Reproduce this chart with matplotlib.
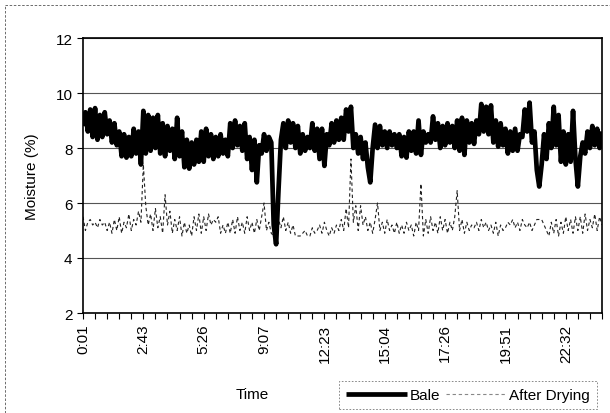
import numpy as np
import matplotlib
matplotlib.use("Agg")
import matplotlib.pyplot as plt
from matplotlib.lines import Line2D

plt.rcParams['font.family'] = ['Liberation Sans', 'DejaVu Sans']

# Bale moisture (%), one value per logged reading
bale = [
    8.8, 9.3, 8.6, 9.4, 8.4, 9.45, 8.3, 9.2, 8.4, 9.3, 8.5, 9.0,
    8.2, 8.9, 8.1, 8.6, 7.7, 8.5, 7.65, 8.4, 7.7, 8.7, 7.8, 8.6,
    7.4, 9.35, 7.8, 9.2, 7.9, 9.1, 8.0, 9.2, 7.8, 8.9, 7.7, 8.8,
    7.9, 8.7, 7.6, 9.1, 7.7, 8.6, 7.3, 8.3, 7.25, 8.2, 7.4, 8.3,
    7.5, 8.6, 7.5, 8.7, 7.7, 8.5, 7.6, 8.4, 7.7, 8.5, 7.8, 8.3,
    7.7, 8.9, 8.0, 9.0, 8.1, 8.8, 7.9, 8.9, 7.6, 8.4, 7.2, 8.3,
    6.75, 8.1, 7.8, 8.5, 7.9, 8.4, 8.2, 5.2, 4.5, 6.5, 8.3, 8.9,
    8.0, 9.0, 8.2, 8.9, 8.0, 8.8, 7.8, 8.5, 7.9, 8.4, 8.0, 8.9,
    7.9, 8.7, 7.6, 8.7, 7.35, 8.5, 8.1, 8.9, 8.2, 9.0, 8.3, 9.1,
    8.3, 9.4, 8.6, 9.5, 8.0, 8.5, 7.8, 8.4, 7.6, 8.2, 7.3, 6.75,
    8.0, 8.85, 8.0, 8.8, 8.1, 8.6, 8.0, 8.6, 8.1, 8.5, 8.0, 8.5,
    7.7, 8.4, 7.65, 8.6, 7.9, 8.6, 7.8, 9.0, 7.75, 8.6, 8.2, 8.5,
    8.2, 9.15, 8.3, 8.9, 8.0, 8.8, 8.1, 8.9, 8.2, 8.8, 8.0, 9.0,
    7.9, 9.1, 7.75, 9.0, 8.2, 8.9, 8.15, 9.0, 8.5, 9.6, 8.6, 9.5,
    8.5, 9.55, 8.2, 9.0, 8.05, 8.9, 8.1, 8.7, 7.8, 8.6, 7.9, 8.7,
    7.9, 8.5, 8.4, 9.4, 8.6, 9.65, 8.2, 8.6, 7.2, 6.6, 7.4, 8.5,
    7.6, 8.9, 8.0, 9.5, 8.1, 9.2, 7.5, 8.6, 7.4, 8.5, 7.5, 9.35,
    7.6, 6.6, 7.7, 8.2, 7.8, 8.6, 8.0, 8.8, 8.1, 8.7, 8.0, 8.6,
]

# Moisture after drying (%)
after_drying = [
    5.5, 5.0, 5.3, 5.4, 5.2, 5.3, 5.1, 5.4, 5.2, 5.3, 5.0, 5.3,
    4.9, 5.4, 5.0, 5.5, 4.9, 5.3, 5.1, 5.6, 5.0, 5.4, 5.2, 5.7,
    5.3, 7.4, 5.9, 5.2, 5.6, 5.0, 5.8, 5.1, 5.5, 4.9, 6.3, 5.2,
    5.7, 4.9, 5.4, 5.0, 5.5, 4.8, 5.3, 4.9, 5.2, 4.8, 5.5, 5.0,
    5.6, 4.9, 5.5, 5.0, 5.6, 5.2, 5.4, 5.3, 5.5, 4.9, 5.2, 4.9,
    5.3, 4.9, 5.4, 4.9, 5.5, 5.0, 5.3, 4.9, 5.5, 5.0, 5.3, 4.9,
    5.4, 5.0, 5.5, 6.0, 5.0, 5.3, 4.9, 4.8, 5.0, 5.4, 5.1, 5.5,
    5.0, 5.3, 4.9, 5.2, 4.8, 4.8, 4.8, 4.9, 5.0, 4.8, 4.8, 5.1,
    4.9, 5.0, 5.2, 4.9, 5.3, 5.0, 4.8, 5.1, 4.9, 5.2, 5.0, 5.4,
    5.0, 5.8, 5.1, 7.6, 5.3, 5.9, 5.0, 5.9, 5.2, 5.5, 5.0, 5.3,
    4.9, 5.4, 6.0, 5.0, 5.3, 4.9, 5.4, 5.0, 5.2, 4.9, 5.3, 4.9,
    5.2, 4.9, 5.3, 5.0, 5.2, 4.8, 5.3, 5.0, 6.7, 4.8, 5.4, 4.9,
    5.5, 5.0, 5.3, 4.9, 5.5, 5.0, 5.4, 4.9, 5.3, 5.0, 5.5, 6.45,
    5.0, 5.4, 4.9, 5.3, 5.0, 5.2, 5.1, 5.3, 5.0, 5.4, 5.1, 5.3,
    5.0, 5.2, 4.9, 5.3, 4.8, 5.2, 5.0, 5.1, 5.3, 5.2, 5.4, 5.1,
    5.3, 5.0, 5.4, 5.2, 5.1, 5.3, 5.0, 5.2, 5.4, 5.4, 5.4, 5.2,
    5.0, 4.8, 5.3, 4.9, 5.4, 4.8, 5.3, 4.9, 5.5, 5.0, 5.4, 4.9,
    5.5, 5.0, 5.5, 4.9, 5.6, 5.0, 5.4, 5.1, 5.6, 5.0, 5.5, 5.2,
]

# category labels shown on the time axis (every 25th reading)
time_labels = ["0:01", "2:43", "5:26", "9:07", "12:23",
               "15:04", "17:26", "19:51", "22:32"]
label_step = 25

x = np.arange(len(bale))

fig = plt.figure(figsize=(6.10, 4.14), dpi=100)
ax = fig.add_axes([83 / 610, 1 - 314 / 414, 519 / 610, 275 / 414])

ax.plot(x, bale, color="black", linewidth=3.4, solid_joinstyle="round",
        solid_capstyle="butt", label="Bale", zorder=3)
ax.plot(x, after_drying, color="#222222", linewidth=0.8,
        dashes=(3, 2.5), label="After Drying", zorder=2)

ax.set_xlim(0, len(bale) - 1)
ax.set_ylim(2, 12)
ax.set_yticks([2, 4, 6, 8, 10, 12])
ax.yaxis.grid(True, color="#555555", linewidth=0.8)
ax.set_axisbelow(True)

ax.set_xticks(np.arange(0, len(bale), 5), minor=True)
ax.set_xticks(np.arange(0, len(time_labels) * label_step, label_step))
ax.set_xticklabels(time_labels, rotation=90)
ax.tick_params(axis="x", which="both", direction="out", length=4, width=0.8)
ax.tick_params(axis="y", direction="out", length=4, width=0.8)
ax.tick_params(labelsize=11)

for s in ax.spines.values():
    s.set_linewidth(1.2)
    s.set_color("black")

ax.set_ylabel("Moisture (%)", fontsize=11, labelpad=12)
fig.text(252 / 610, 1 - 395 / 414, "Time", fontsize=11,
         ha="center", va="center")

leg = fig.legend(loc="upper left", bbox_to_anchor=(339 / 610, 1 - 382 / 414),
                 ncol=2, fontsize=11, handlelength=4.0, handletextpad=0.15,
                 columnspacing=0.4, borderpad=0.45, borderaxespad=0,
                 fancybox=False, framealpha=1)
leg.get_frame().set_edgecolor("#777777")
leg.get_frame().set_linewidth(0.6)
leg.get_frame().set_linestyle((0, (2, 2)))
leg.get_lines()[1].set_color("#888888")

# outer chart border (left and top edges visible in the original)
fig.add_artist(Line2D([5 / 610, 5 / 610], [0, 1 - 6 / 414],
                      transform=fig.transFigure, color="#555555",
                      linewidth=0.6, linestyle=(0, (3, 2))))
fig.add_artist(Line2D([5 / 610, 1], [1 - 6 / 414, 1 - 6 / 414],
                      transform=fig.transFigure, color="#555555",
                      linewidth=0.6, linestyle=(0, (3, 2))))

fig.savefig("out.png", dpi=100)
